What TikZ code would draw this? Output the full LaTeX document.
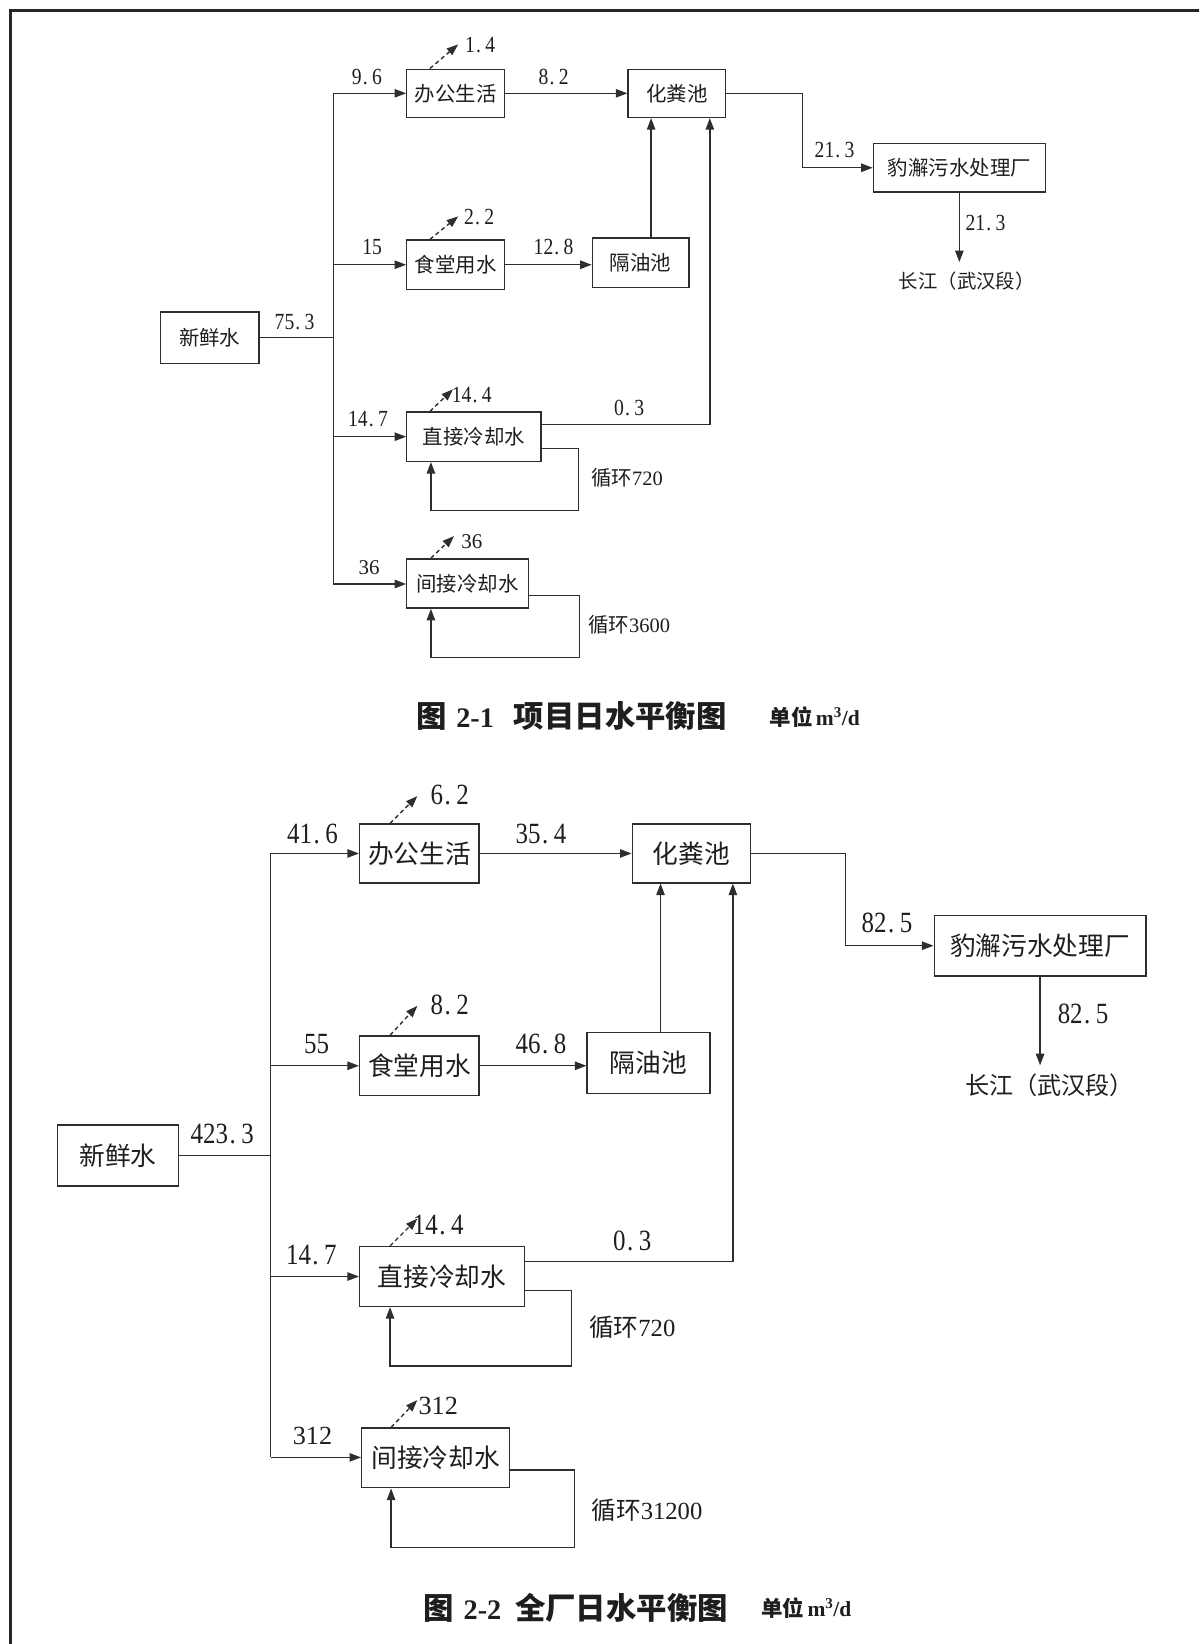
\documentclass[tikz,border=0pt]{standalone}
\usepackage{fontspec}
\setmainfont{Liberation Serif}
\newfontfamily\cjk{Noto Sans CJK SC}
\newfontfamily\numfont[FakeStretch=0.85]{Liberation Serif}
\usetikzlibrary{arrows.meta}
\definecolor{lc}{HTML}{2E2E2E}
\definecolor{tc}{HTML}{1E1E1E}
\newcommand\dt{\makebox[0.45em][l]{\hspace{0.05em}.}}
\begin{document}
\begin{tikzpicture}[x=1pt,y=-1pt,
  every node/.style={inner sep=0pt,text=tc},
  box/.style={draw=lc,line width=1.3pt,rectangle,inner sep=0pt},
  ln/.style={draw=lc,line width=1.3pt},
  arr/.style={draw=lc,line width=1.3pt,-{Triangle[length=11pt,width=8pt]}},
  darr/.style={arr,dash pattern=on 4pt off 3pt},
  numA/.style={font=\numfont\fontsize{22}{22}\selectfont},
  numB/.style={font=\numfont\fontsize{28}{28}\selectfont},
  txtA/.style={font=\cjk\fontsize{19.5}{19.5}\selectfont},
  txtB/.style={font=\cjk\fontsize{24.5}{24.5}\selectfont},
  capA/.style={font=\cjk\bfseries\fontsize{29}{29}\selectfont},
  unitA/.style={font=\cjk\bfseries\fontsize{20.5}{20.5}\selectfont}
]
\useasboundingbox[fill=white] (0,0) rectangle (1144,1568);
% frame
\draw[line width=3.5pt,black!85] (1144,10) -- (10,10) -- (10,1568);

% ================= Diagram 1 =================
\node[box,txtA,minimum width=94pt,minimum height=49pt] (d1fresh) at (200,322) {新鲜水};
\node[box,txtA,minimum width=93pt,minimum height=46pt] (d1office) at (434.5,89) {办公生活};
\node[box,txtA,minimum width=93pt,minimum height=46pt] (d1septic) at (645.5,89) {化粪池};
\node[box,txtA,minimum width=164pt,minimum height=46pt] (d1plant) at (915,160) {豹澥污水处理厂};
\node[box,txtA,minimum width=93pt,minimum height=47pt] (d1canteen) at (434.5,252.5) {食堂用水};
\node[box,txtA,minimum width=92pt,minimum height=47pt] (d1oil) at (611,250.5) {隔油池};
\node[box,txtA,minimum width=128pt,minimum height=47pt] (d1direct) at (452,416.5) {直接冷却水};
\node[box,txtA,minimum width=116pt,minimum height=47pt] (d1indirect) at (446,556.5) {间接冷却水};
\node[txtA,font=\cjk\fontsize{18.5}{18.5}\selectfont] (d1river) at (922,268) {长江（武汉段）};

\coordinate (t1top) at (318,89);
\coordinate (t1bot) at (318,557);
\draw[ln] (t1top) -- (t1bot);
\draw[ln] (d1fresh.east) -- (d1fresh.east -| t1top);
\draw[arr] (t1top) -- (d1office.west);
\draw[arr] (d1canteen.west -| t1top) -- (d1canteen.west);
\draw[arr] (d1direct.west -| t1top) -- (d1direct.west);
\draw[arr] (t1bot) -- (t1bot -| d1indirect.west);
\draw[arr] (d1office.east) -- (d1septic.west);
\draw[arr] (d1canteen.east) -- (d1canteen.east -| d1oil.west);
\draw[arr] (d1septic.east) -- ++(73,0) |- (d1plant.west);
\coordinate (r1) at (915,250);
\draw[arr] (d1plant.south) -- (r1);
\draw[arr] ([xshift=10pt]d1oil.north) -- ([xshift=10pt]d1oil.north |- d1septic.south);
\draw[arr] ([yshift=11.5pt]d1direct.east) -| ([xshift=31.5pt]d1septic.south);
\coordinate (l1a) at (552,487);
\draw[arr] ([yshift=-11.5pt]d1direct.east) -| (l1a) -| ([xshift=-41pt]d1direct.south);
\coordinate (l1b) at (553,627);
\draw[arr] ([yshift=-11.5pt]d1indirect.east) -| (l1b) -| ([xshift=-35pt]d1indirect.south);
% losses
\draw[darr] ([xshift=-24.5pt]d1office.north) -- ++(27,-23);
\draw[darr] ([xshift=-24.5pt]d1canteen.north) -- ++(27,-22);
\draw[darr] ([xshift=-42pt]d1direct.north) -- ++(22,-21);
\draw[darr] ([xshift=-35pt]d1indirect.north) -- ++(22,-21);
% labels
\node[numA] (n1a) at (281,307) {75\dt3};
\node[numA] (n1b) at (350,73) {9\dt6};
\node[numA] (n1c) at (458,43) {1\dt4};
\node[numA] (n1d) at (528,73) {8\dt2};
\node[numA] (n1e) at (796,143) {21\dt3};
\node[numA] (n1f) at (940,213) {21\dt3};
\node[numA] (n1g) at (355,236) {15};
\node[numA] (n1h) at (457,207) {2\dt2};
\node[numA] (n1i) at (528,236) {12\dt8};
\node[numA] (n1j) at (600,389) {0\dt3};
\node[numA] (n1k) at (351,400) {14\dt7};
\node[numA] (n1l) at (450,377) {14\dt4};
\node[numA,font=\fontsize{20}{20}\selectfont] (n1m) at (352,541) {36};
\node[numA,font=\fontsize{20}{20}\selectfont] (n1n) at (450,517) {36};
\node[txtA] (n1o) at (598,456) {循环{\rmfamily 720}};
\node[txtA] (n1p) at (600,596) {循环{\rmfamily 3600}};
% caption
\node[capA,anchor=west] (cap1) at (397,683) {图\hspace{9pt}{\rmfamily\bfseries\fontsize{27}{27}\selectfont 2-1}\hspace{19pt}项目日水平衡图};
\node[unitA,anchor=west] (unit1) at (734,684) {单位\hspace{3pt}{\rmfamily\bfseries m\textsuperscript{3}/d}};

% ================= Diagram 2 =================
\node[box,txtB,minimum width=115pt,minimum height=58pt] (d2fresh) at (112.5,1102) {新鲜水};
\node[box,txtB,minimum width=114pt,minimum height=56pt] (d2office) at (400,814) {办公生活};
\node[box,txtB,minimum width=113pt,minimum height=56pt] (d2septic) at (659.5,814) {化粪池};
\node[box,txtB,minimum width=202pt,minimum height=58pt] (d2plant) at (992,902) {豹澥污水处理厂};
\node[box,txtB,minimum width=114pt,minimum height=57pt] (d2canteen) at (400,1016.5) {食堂用水};
\node[box,txtB,minimum width=117pt,minimum height=58pt] (d2oil) at (618.5,1014) {隔油池};
\node[box,txtB,minimum width=157pt,minimum height=57pt] (d2direct) at (421.5,1217.5) {直接冷却水};
\node[box,txtB,minimum width=141pt,minimum height=57pt] (d2indirect) at (415.5,1390.5) {间接冷却水};
\node[txtB,font=\cjk\fontsize{23}{23}\selectfont] (d2river) at (1001,1035) {长江（武汉段）};

\coordinate (t2top) at (258,814);
\coordinate (t2bot) at (258,1390);
\draw[ln] (t2top) -- (t2bot);
\draw[ln] (d2fresh.east) -- (d2fresh.east -| t2top);
\draw[arr] (t2top) -- (d2office.west);
\draw[arr] (d2canteen.west -| t2top) -- (d2canteen.west);
\draw[arr] (d2direct.west -| t2top) -- (d2direct.west);
\draw[arr] (t2bot) -- (t2bot -| d2indirect.west);
\draw[arr] (d2office.east) -- (d2septic.west);
\draw[arr] (d2canteen.east) -- (d2canteen.east -| d2oil.west);
\draw[arr] (d2septic.east) -- ++(90,0) |- (d2plant.west);
\coordinate (r2) at (992,1016);
\draw[arr] (d2plant.south) -- (r2);
\draw[arr] ([xshift=11.5pt]d2oil.north) -- ([xshift=11.5pt]d2oil.north |- d2septic.south);
\draw[arr] ([yshift=14.5pt]d2direct.east) -| ([xshift=39.5pt]d2septic.south);
\coordinate (l2a) at (545,1303);
\draw[arr] ([yshift=-13.5pt]d2direct.east) -| (l2a) -| ([xshift=-49.5pt]d2direct.south);
\coordinate (l2b) at (548,1476);
\draw[arr] ([yshift=-11.5pt]d2indirect.east) -| (l2b) -| ([xshift=-42.5pt]d2indirect.south);
% losses
\draw[darr] ([xshift=-28pt]d2office.north) -- ++(26,-26);
\draw[darr] ([xshift=-28pt]d2canteen.north) -- ++(26,-28);
\draw[darr] ([xshift=-49.5pt]d2direct.north) -- ++(26,-26);
\draw[darr] ([xshift=-42.5pt]d2indirect.north) -- ++(25,-26);
% labels
\node[numB] (n2a) at (212,1082) {423\dt3};
\node[numB] (n2b) at (298,795) {41\dt6};
\node[numB] (n2c) at (429,758) {6\dt2};
\node[numB] (n2d) at (516,795) {35\dt4};
\node[numB] (n2e) at (846,880) {82\dt5};
\node[numB] (n2f) at (1033,967) {82\dt5};
\node[numB] (n2g) at (302,996) {55};
\node[numB] (n2h) at (429,958) {8\dt2};
\node[numB] (n2i) at (516,996) {46\dt8};
\node[numB] (n2j) at (603,1184) {0\dt3};
\node[numB] (n2k) at (297,1197) {14\dt7};
\node[numB] (n2l) at (418,1168) {14\dt4};
\node[numB,font=\fontsize{25}{25}\selectfont] (n2m) at (298,1370) {312};
\node[numB,font=\fontsize{25}{25}\selectfont] (n2n) at (418,1341) {312};
\node[txtB,font=\cjk\fontsize{23.5}{23.5}\selectfont] (n2o) at (603,1266) {循环{\rmfamily 720}};
\node[txtB,font=\cjk\fontsize{23.5}{23.5}\selectfont] (n2p) at (617,1440) {循环{\rmfamily 31200}};
% caption
\node[capA,anchor=west] (cap2) at (404,1533) {图\hspace{9pt}{\rmfamily\bfseries\fontsize{27}{27}\selectfont 2-2}\hspace{13pt}全厂日水平衡图};
\node[unitA,anchor=west] (unit2) at (726,1534) {单位\hspace{3pt}{\rmfamily\bfseries m\textsuperscript{3}/d}};
\end{tikzpicture}
\end{document}
